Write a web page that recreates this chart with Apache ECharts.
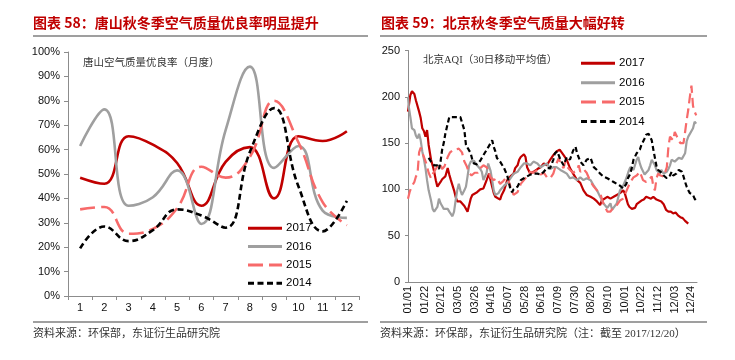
<!DOCTYPE html>
<html><head><meta charset="utf-8">
<script src="https://cdn.jsdelivr.net/npm/echarts@6/dist/echarts.min.js"></script>
<style>html,body{margin:0;padding:0;background:#fff}#c{width:735px;height:360px}</style>
</head><body><div id="c"></div>
<script>
// ---------- Left chart: 唐山空气质量优良率（月度）, % ----------
const months = ['1','2','3','4','5','6','7','8','9','10','11','12'];
const ts2017 = [48.5, 46, 65.5, 62, 54.5, 37, 55, 61, 40, 65.5, 63.5, 67.5];
const ts2016 = [61.5, 76.5, 37, 40.5, 51.5, 29.5, 68, 94, 52.5, 61.5, 35, 32];
const ts2015 = [35.5, 36.5, 25.5, 27.5, 36, 53, 48.5, 57, 80, 63, 38.5, 29];
const ts2014 = [19.5, 28.5, 22.5, 27, 35.5, 33, 28, 59, 77, 45, 26.5, 39];

// ---------- Right chart: 北京AQI（30日移动平均值）, day-of-year index ----------
const bjTickLabels = ['01/01','01/22','02/12','03/05','03/26','04/16','05/07','05/28','06/18','07/09','07/30','08/20','09/10','10/01','10/22','11/12','12/03','12/24'];

const bjDays2017 = [0,3,5,8,10,12,14,16,18,20,22,24,26,29,31,33,35,37,39,41,43,45,47,50,52,54,56,58,60,62,64,66,68,71,73,75,77,79,81,83,87,91,95,99,102,104,106,108,110,112,116,118,121,125,129,133,135,138,140,142,146,148,150,154,158,163,167,171,175,179,183,187,191,196,200,204,208,213,217,221,225,230,234,238,242,244,246,251,255,259,263,267,271,273,275,277,279,282,284,286,288,290,294,297,300,303,306,309,313,316,319,322,325,328,331,334,337,340,343,346,349,351,353];
const bjAqi2017  = [184,202,206,203,196,194,184,177,166,163,157,164,148,132,126,119,110,103,104,108,111,112,114,123,116,110,112,99,92,87,85,87,85,82,80,76,83,90,94,92,97,100,101,110,117,119,103,96,92,90,89,94,99,110,114,117,123,126,132,135,138,135,124,117,119,122,124,128,126,132,137,141,143,137,132,123,117,110,107,99,94,92,90,87,83,88,90,92,90,92,94,96,99,96,90,84,81,79,77,80,84,86,88,89,92,91,90,92,89,88,87,84,78,76,76,74,75,72,70,69,66,64,63];

const bjDays2016 = [0,1,3,5,8,10,12,14,16,18,20,22,24,26,29,31,33,35,37,39,41,43,45,47,50,52,54,56,58,60,62,64,66,68,71,73,75,77,79,81,83,87,91,93,95,99,101,104,106,108,110,112,114,116,121,125,129,133,138,142,146,150,154,158,163,167,171,175,179,183,187,192,196,200,204,208,213,217,221,225,230,234,238,242,246,251,255,257,259,263,265,267,271,275,278,280,282,284,288,290,292,294,296,298,300,303,305,307,309,311,313,315,317,319,322,324,326,328,330,332,334,336,338,341,343,345,347,349,351,353,355,357,359,361,363];
const bjAqi2016  = [200,189,178,166,164,158,155,160,153,141,133,123,110,99,88,79,76,76,81,90,85,82,79,78,79,76,74,71,76,88,99,106,99,94,99,103,114,126,130,128,131,126,122,119,110,118,128,120,110,99,94,92,96,99,104,107,112,117,119,124,128,128,126,130,128,124,126,128,122,124,124,121,119,117,112,113,110,113,110,112,110,104,99,92,85,80,85,78,80,85,92,99,104,112,120,124,126,121,132,135,128,123,121,116,114,121,126,132,130,126,121,119,117,121,117,116,119,122,126,132,132,130,132,134,135,133,132,139,152,157,160,162,166,173,171];

const bjDays2015 = [0,2,4,6,8,10,12,14,16,18,20,23,26,29,32,35,37,40,43,46,50,53,56,60,64,68,71,74,77,80,84,88,91,95,99,102,104,108,112,116,120,125,129,133,135,138,142,146,150,154,158,163,167,171,175,179,183,187,190,192,196,198,200,204,208,213,215,217,221,225,228,230,234,238,242,246,251,253,255,259,263,267,271,273,276,280,282,284,288,290,292,296,300,303,307,309,311,313,315,318,322,326,328,330,332,334,336,338,341,343,345,347,349,351,353,355,357,359,361,363];
const bjAqi2015  = [90,97,102,104,108,114,117,140,145,140,135,128,118,112,118,122,125,128,122,125,135,140,142,143,144,140,130,125,118,115,118,118,123,126,124,118,113,110,112,106,109,114,103,94,92,97,106,110,114,119,118,121,116,118,113,112,117,128,134,128,123,130,125,121,118,121,126,119,122,118,112,108,103,99,96,85,76,74,76,81,83,88,90,92,100,108,110,113,115,117,119,110,108,110,114,103,99,112,117,115,114,124,146,157,159,153,162,164,153,150,148,150,162,175,186,200,212,190,184,180];

const bjDays2014 = [26,29,31,33,35,37,39,41,43,45,47,50,52,54,56,60,62,66,68,71,73,75,79,81,83,87,91,95,100,104,106,108,110,112,116,121,125,127,129,131,133,138,142,146,150,154,158,163,167,171,175,179,183,185,188,192,196,200,204,208,211,213,217,221,225,230,234,238,242,246,251,255,259,263,267,271,275,277,280,282,284,288,292,294,296,298,300,303,305,307,309,311,313,315,318,320,322,324,326,328,330,332,334,336,338,341,343,345,347,349,351,353,355,357,359,361,363];
const bjAqi2014  = [134,130,128,126,124,126,122,130,143,150,160,171,178,177,178,178,180,178,176,164,148,145,139,132,128,127,131,137,144,150,153,146,141,134,130,123,115,108,100,97,100,103,110,112,114,116,117,117,116,119,123,123,132,139,141,132,126,135,132,142,146,139,130,126,132,134,124,121,117,114,112,110,108,106,104,101,106,112,117,124,132,139,143,148,150,155,159,160,159,153,143,134,125,121,119,117,115,114,112,113,115,119,115,113,117,121,121,119,114,108,103,99,96,94,94,90,88];

const C17 = '#C00000', C16 = '#9F9F9F', C15 = '#F76A6A', C14 = '#000000';
const AX = '#8C8C8C';
const numFont = '"Liberation Sans", Arial, sans-serif';
const cjkSerif = '"Liberation Serif", "Noto Sans CJK SC", serif';

function pairs(d, v) { return d.map((x, i) => [x, v[i]]); }

const chart = echarts.init(document.getElementById('c'), null, {renderer: 'canvas'});

function legendGraphics(x0, y0, gap) {
  const items = [['2017', C17, null], ['2016', C16, null], ['2015', C15, [15, 6]], ['2014', C14, [6, 3.5]]];
  const g = [];
  items.forEach((it, i) => {
    const y = y0 + i * gap;
    g.push({type: 'line', shape: {x1: x0, y1: y, x2: x0 + 34, y2: y},
      style: {stroke: it[1], lineWidth: 3, lineDash: it[2]}});
    g.push({type: 'text', x: x0 + 38, y: y, style: {text: it[0], fill: '#000', font: '11.5px ' + numFont, verticalAlign: 'middle'}});
  });
  return g;
}

const graphics = [
  {type: 'text', x: 33, y: 23, style: {text: '图表 58：唐山秋冬季空气质量优良率明显提升', fill: '#C00000', font: 'bold 14px "Noto Sans CJK SC", sans-serif', verticalAlign: 'middle'}},
  {type: 'text', x: 381, y: 23, style: {text: '图表 59：北京秋冬季空气质量大幅好转', fill: '#C00000', font: 'bold 14px "Noto Sans CJK SC", sans-serif', verticalAlign: 'middle'}},
  {type: 'line', shape: {x1: 33, y1: 36, x2: 368, y2: 36}, style: {stroke: '#7F7F7F', lineWidth: 1.3}},
  {type: 'line', shape: {x1: 380, y1: 36, x2: 707, y2: 36}, style: {stroke: '#7F7F7F', lineWidth: 1.3}},
  {type: 'line', shape: {x1: 33, y1: 322, x2: 368, y2: 322}, style: {stroke: '#7F7F7F', lineWidth: 1.3}},
  {type: 'line', shape: {x1: 380, y1: 322, x2: 707, y2: 322}, style: {stroke: '#7F7F7F', lineWidth: 1.3}},
  {type: 'text', x: 33, y: 334, style: {text: '资料来源：环保部，东证衍生品研究院', fill: '#333', font: '11px ' + cjkSerif, verticalAlign: 'middle'}},
  {type: 'text', x: 380, y: 334, style: {text: '资料来源：环保部，东证衍生品研究院（注：截至 2017/12/20）', fill: '#333', font: '11px ' + cjkSerif, verticalAlign: 'middle'}},
  {type: 'text', x: 83, y: 63, style: {text: '唐山空气质量优良率（月度）', fill: '#333', font: '10.5px ' + cjkSerif, verticalAlign: 'middle'}},
  {type: 'text', x: 423, y: 60, style: {text: '北京AQI（30日移动平均值）', fill: '#333', font: '10.5px ' + cjkSerif, verticalAlign: 'middle'}}
].concat(legendGraphics(248, 228.3, 18.3)).concat(legendGraphics(581, 63.3, 19.4));

const axisCommon = {
  axisLine: {show: true, onZero: false, lineStyle: {color: AX, width: 1}},
  splitLine: {show: false},
  axisLabel: {color: '#111', fontSize: 11, fontFamily: numFont}
};

const option = {
  animation: false,
  backgroundColor: '#fff',
  grid: [
    {left: 68, right: 376, top: 52, bottom: 64},
    {left: 408, right: 38, top: 50.5, bottom: 78}
  ],
  xAxis: [
    Object.assign({}, axisCommon, {gridIndex: 0, type: 'category', data: months, boundaryGap: true,
      axisTick: {show: true, length: 4, lineStyle: {color: AX}},
      axisLabel: {color: '#111', fontSize: 11, fontFamily: numFont, margin: 6}}),
    Object.assign({}, axisCommon, {gridIndex: 1, type: 'value', min: 0, max: 364, interval: 21,
      axisTick: {show: false},
      axisLabel: {color: '#111', fontSize: 11, fontFamily: numFont, rotate: 90, margin: 4, showMaxLabel: false,
        formatter: v => (v % 21 === 0 && bjTickLabels[v / 21]) ? bjTickLabels[v / 21] : ''}})
  ],
  yAxis: [
    Object.assign({}, axisCommon, {gridIndex: 0, type: 'value', min: 0, max: 100, interval: 10,
      axisTick: {show: true, length: 4, lineStyle: {color: AX}},
      axisLabel: {color: '#111', fontSize: 11, fontFamily: numFont, margin: 8, formatter: '{value}%'}}),
    Object.assign({}, axisCommon, {gridIndex: 1, type: 'value', min: 0, max: 250, interval: 50,
      axisTick: {show: true, length: 3, lineStyle: {color: AX}},
      axisLabel: {color: '#111', fontSize: 11, fontFamily: numFont, margin: 8}})
  ],
  series: [
    {name: '2017', type: 'line', xAxisIndex: 0, yAxisIndex: 0, data: ts2017, smooth: 0.45, symbol: 'none', lineStyle: {color: C17, width: 2.6}},
    {name: '2016', type: 'line', xAxisIndex: 0, yAxisIndex: 0, data: ts2016, smooth: 0.45, symbol: 'none', lineStyle: {color: C16, width: 2.6}},
    {name: '2015', type: 'line', xAxisIndex: 0, yAxisIndex: 0, data: ts2015, smooth: 0.45, symbol: 'none', lineStyle: {color: C15, width: 2.6, type: [15, 6]}},
    {name: '2014', type: 'line', xAxisIndex: 0, yAxisIndex: 0, data: ts2014, smooth: 0.45, symbol: 'none', lineStyle: {color: C14, width: 2.6, type: [6, 3.5]}},
    {name: 'BJ2017', type: 'line', xAxisIndex: 1, yAxisIndex: 1, data: pairs(bjDays2017, bjAqi2017), symbol: 'none', lineStyle: {color: C17, width: 2.2}},
    {name: 'BJ2016', type: 'line', xAxisIndex: 1, yAxisIndex: 1, data: pairs(bjDays2016, bjAqi2016), symbol: 'none', lineStyle: {color: C16, width: 2.2}},
    {name: 'BJ2015', type: 'line', xAxisIndex: 1, yAxisIndex: 1, data: pairs(bjDays2015, bjAqi2015), symbol: 'none', lineStyle: {color: C15, width: 2.2, type: [10, 5]}},
    {name: 'BJ2014', type: 'line', xAxisIndex: 1, yAxisIndex: 1, data: pairs(bjDays2014, bjAqi2014), symbol: 'none', lineStyle: {color: C14, width: 2.2, type: [5, 3]}}
  ],
  graphic: graphics
};
chart.setOption(option);
</script>
</body></html>
